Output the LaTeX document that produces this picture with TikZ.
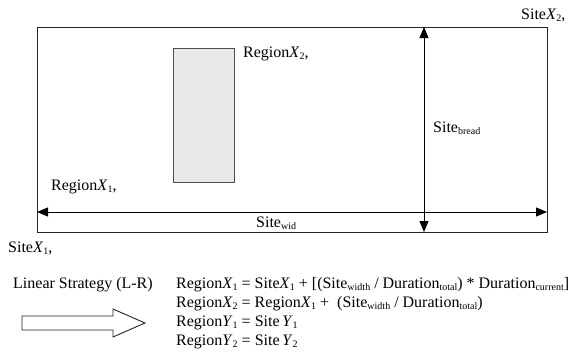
\documentclass[tikz,border=0pt]{standalone}
\usepackage{fontspec}
\setmainfont{Liberation Serif}
\usetikzlibrary{arrows.meta}

% small lowered index text
\newcommand{\idx}[1]{\raisebox{-2.6pt}{\fontsize{10}{10}\selectfont #1}}

\tikzset{
  sitebox/.style={draw=black!85, line width=0.9pt, inner sep=0pt},
  regionbox/.style={draw=black!70, fill=black!9, line width=0.9pt, inner sep=0pt},
  label/.style={inner sep=0pt, anchor=base west},
  dimline/.style={draw=black, line width=0.9pt, {Triangle[length=11pt,width=9pt]}-{Triangle[length=11pt,width=9pt]}},
  hollowarrow/.style={draw=black!85, line width=0.9pt, fill=white}
}

\begin{document}
\begin{tikzpicture}[x=1pt, y=-1pt, font=\fontsize{16}{19}\selectfont]
\useasboundingbox (0,0) rectangle (579,354);

% site outline and the current region
\node[sitebox, anchor=north west, minimum width=510pt, minimum height=205pt] (site) at (37,27) {};
\node[regionbox, anchor=north west, minimum width=61pt, minimum height=134pt] (region) at (173,48) {};

% dimension arrows
\coordinate (wl) at (37,212);
\coordinate (wr) at (547,212);
\coordinate (bt) at (424,27);
\coordinate (bb) at (424,232);
\draw[dimline] (wl) -- (wr);
\draw[dimline] (bt) -- (bb);

% labels on the site
\node[label] (sx2) at (521,19) {Site\textit{X}\idx{2},};
\node[label] (rx2) at (243,57) {Region\textit{X}\idx{2},};
\node[label] (sbr) at (433,132) {Site\idx{bread}};
\node[label] (rx1) at (51,190) {Region\textit{X}\idx{1},};
\node[label] (swd) at (256,227) {Site\idx{wid}};
\node[label] (sx1) at (8,252) {Site\textit{X}\idx{1},};

% strategy and formulas
\node[label] (strat) at (13,288) {Linear Strategy (L-R)};
\node[label] (f1) at (176,288) {Region\textit{X}\idx{1} = Site\textit{X}\idx{1} + [(Site\idx{width} / Duration\idx{total}) * Duration\idx{current}]};
\node[label] (f2) at (176,307) {Region\textit{X}\idx{2} = Region\textit{X}\idx{1} +\ \ (Site\idx{width} / Duration\idx{total})};
\node[label] (f3) at (176,326) {Region\textit{Y}\idx{1} = Site\,\textit{Y}\idx{1}};
\node[label] (f4) at (176,345) {Region\textit{Y}\idx{2} = Site\,\textit{Y}\idx{2}};

% hollow block arrow
\draw[hollowarrow] (22,316) -- (113,316) -- (113,309) -- (145,323) -- (113,337) -- (113,330) -- (22,330) -- cycle;
\end{tikzpicture}
\end{document}
